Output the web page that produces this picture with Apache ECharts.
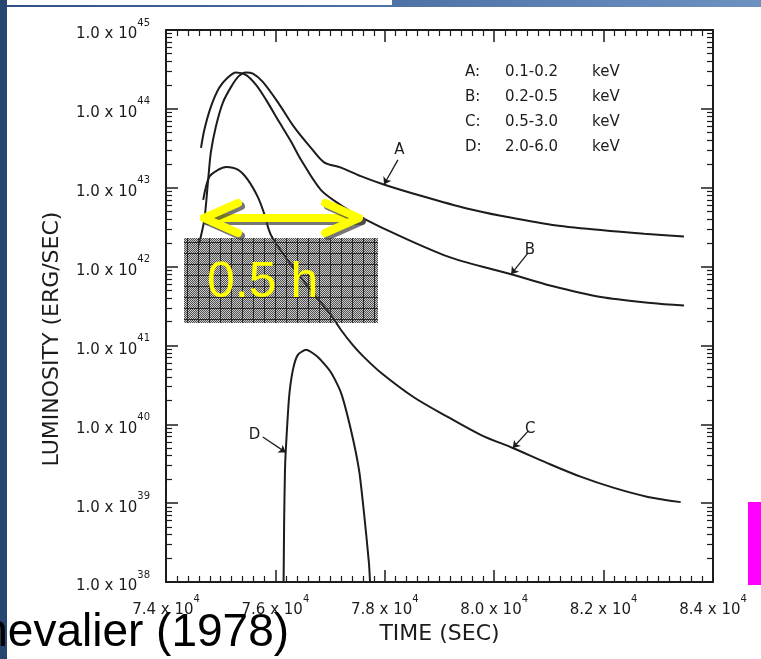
<!DOCTYPE html>
<html>
<head>
<meta charset="utf-8">
<title>X-ray luminosity vs time</title>
<script src="https://cdn.jsdelivr.net/npm/echarts@6.0.0/dist/echarts.min.js"></script>
<style>
html, body { margin: 0; padding: 0; background: #fff; }
#main { width: 761px; height: 659px; }
</style>
</head>
<body>
<div id="main"></div>
<script>
// energy bands
var bandNames = ['A', 'B', 'C', 'D'];
var bandRanges = ['0.1-0.2', '0.2-0.5', '0.5-3.0', '2.0-6.0'];

// [time (sec), luminosity (erg/sec)]
var curveA = [
	[74600, 1.9e42], [74700, 3.9e42], [74770, 1.25e43], [74820, 2.8e43], [74910, 5.9e43],
	[75040, 1.2e44], [75190, 1.9e44], [75330, 2.6e44], [75460, 2.9e44], [75590, 2.8e44],
	[75770, 2.2e44], [76050, 1.2e44], [76340, 5.9e43], [76650, 3.2e43], [76890, 2.1e43],
	[77200, 1.8e43], [77560, 1.4e43], [77980, 1.1e43], [78660, 7.9e42], [79520, 5.4e42],
	[80120, 4.4e42], [81040, 3.4e42], [81950, 2.9e42], [82740, 2.6e42], [83470, 2.4e42]
];
var curveB = [
	[74640, 3.2e43], [74700, 5.4e43], [74820, 1.06e44], [74970, 1.84e44], [75130, 2.5e44],
	[75280, 2.9e44], [75460, 2.7e44], [75650, 2.0e44], [75830, 1.3e44], [76070, 6.8e43],
	[76290, 3.8e43], [76470, 2.25e43], [76830, 9.4e42], [77200, 6.0e42], [77560, 4.25e42],
	[78300, 2.4e42], [79210, 1.3e42], [80310, 8.0e41], [81040, 5.7e41], [81950, 4.1e41],
	[82870, 3.45e41], [83470, 3.2e41]
];
var curveC = [
	[74680, 7.0e42], [74790, 1.37e43], [74950, 1.68e43], [75100, 1.83e43], [75320, 1.68e43],
	[75500, 1.25e43], [75680, 7.6e42], [75790, 4.8e42], [75920, 2.5e42], [76290, 1.05e42],
	[76650, 5.0e41], [77020, 2.4e41], [77200, 1.57e41], [77420, 1.0e41], [77620, 7.1e40],
	[77930, 4.5e40], [78530, 2.2e40], [79150, 1.24e40], [79760, 7.3e39], [80340, 5.0e39],
	[80980, 3.2e39], [81590, 2.15e39], [82190, 1.56e39], [82810, 1.2e39], [83410, 1.03e39]
];
var curveD = [
	[76150, 1e38], [76160, 6.1e38], [76175, 2.6e39], [76190, 4.7e39], [76250, 2.2e40],
	[76320, 4.9e40], [76410, 7.6e40], [76560, 8.8e40], [76780, 7.1e40], [77020, 4.5e40],
	[77200, 2.5e40], [77380, 8.5e39], [77530, 2.6e39], [77620, 7.5e38], [77710, 1.74e38],
	[77730, 1e38]
];

// curve tags: [tail, tip]
var tagA = [[78240, 2.25e43], [77985, 1.1e43]];
var tagB = [[80620, 1.49e42], [80310, 8.0e41]];
var tagC = [[80620, 8.2e39], [80340, 5.0e39]];
var tagD = [[75770, 6.9e39], [76190, 4.4e39]];

// axes
var yMajor = [1e38, 1e39, 1e40, 1e41, 1e42, 1e43, 1e44, 1e45];
var yMin = 1e38, yMax = 1e45;
var xMin = 74000, xMax = 84000, xStep = 2000;

// 顶端刻度略往内收，避免被浮点误差过滤掉
var yTickVals = yMajor.map(function(v) {
	return Math.min(v, yMax * 0.999999);
});
var yMinor = [];
for (var i = 0; i < yMajor.length - 1; i++) {
	for (var k = 2; k <= 9; k++) {
		yMinor.push(yMajor[i] * k);
	}
}

var ink = '#1c1c1c';
var font = 'DejaVu Sans';

function supLabel(mant, exp) {
	return '{b|' + mant + ' x 10}{s|' + exp + '}';
}
var labelRich = {
	b: { fontSize: 15, fontFamily: font, color: ink, lineHeight: 24, verticalAlign: 'bottom' },
	s: { fontSize: 10, fontFamily: font, color: ink, lineHeight: 10, verticalAlign: 'top' }
};

function xAxisCfg(pos, showLabel) {
	return {
		type: 'value', position: pos, min: xMin, max: xMax, interval: xStep,
		axisLine: { show: true, onZero: false, lineStyle: { color: ink, width: 2 } },
		axisTick: { show: true, inside: true, length: 12, lineStyle: { color: ink, width: 1.5 } },
		minorTick: { show: true, splitNumber: 10, length: 6, lineStyle: { color: ink, width: 1.2 } },
		splitLine: { show: false },
		minorSplitLine: { show: false },
		axisLabel: {
			show: showLabel, margin: 12, showMinLabel: true, showMaxLabel: true,
			formatter: function(v) { return supLabel((v / 1e4).toFixed(1), 4); },
			rich: labelRich
		}
	};
}

function yAxisCfg(pos, major, showLine) {
	return {
		type: 'log', logBase: 10, position: pos, min: yMin, max: yMax,
		axisLine: { show: showLine, onZero: false, lineStyle: { color: ink, width: 2 } },
		axisTick: { show: true, inside: true, length: major ? 12 : 6, customValues: major ? yTickVals : yMinor,
			lineStyle: { color: ink, width: major ? 1.5 : 1.2 } },
		minorTick: { show: false },
		splitLine: { show: false },
		axisLabel: { show: false }
	};
}

// 网格斜纹底图
var pat = document.createElement('canvas');
pat.width = 11;
pat.height = 11;
var pctx = pat.getContext('2d');
for (var px = 0; px < 11; px++) {
	for (var py = 0; py < 11; py++) {
		pctx.fillStyle = (px + py) % 2 === 0 ? '#4e4e4e' : 'rgba(0,0,0,0.2)';
		pctx.fillRect(px, py, 1, 1);
	}
}
pctx.fillStyle = '#2a2a2a';
pctx.fillRect(0, 0, 11, 1);
pctx.fillRect(0, 0, 1, 11);

function tagLine(name, tag) {
	return {
		silent: true,
		symbol: ['none', 'arrow'],
		symbolSize: 7,
		lineStyle: { color: ink, width: 1.3, type: 'solid' },
		label: { show: true, position: 'start', distance: 3, formatter: name,
			fontSize: 15, fontFamily: font, color: ink },
		emphasis: { disabled: true },
		data: [[{ coord: tag[0] }, { coord: tag[1] }]]
	};
}

var curves = [curveA, curveB, curveC, curveD];
var tags = [tagA, tagB, tagC, tagD];
var series = [];
for (var s = 0; s < curves.length; s++) {
	series.push({
		name: bandNames[s] + ': ' + bandRanges[s] + ' keV',
		type: 'line',
		xAxisIndex: 0,
		yAxisIndex: 0,
		data: curves[s],
		showSymbol: false,
		smooth: s === 3 ? 0.2 : 0.3,
		lineStyle: { color: ink, width: 2 },
		markLine: tagLine(bandNames[s], tags[s])
	});
}

var elements = [];
// legend text
for (var r = 0; r < bandNames.length; r++) {
	var ty = 72 + r * 25;
	elements.push({ type: 'text', z: 50, style: { text: bandNames[r] + ':', x: 465, y: ty, fill: ink, font: '15px "' + font + '"', verticalAlign: 'middle' } });
	elements.push({ type: 'text', z: 50, style: { text: bandRanges[r], x: 505, y: ty, fill: ink, font: '15px "' + font + '"', verticalAlign: 'middle' } });
	elements.push({ type: 'text', z: 50, style: { text: 'keV', x: 592, y: ty, fill: ink, font: '15px "' + font + '"', verticalAlign: 'middle' } });
}
// slide overlays
var arrowStyle = {
	stroke: '#ffff00', lineWidth: 8, lineCap: 'round', lineJoin: 'round', fill: null,
	shadowColor: 'rgba(60,60,60,0.7)', shadowOffsetX: 3, shadowOffsetY: 3
};
elements.push(
	{ type: 'rect', z: 100, shape: { x: 0, y: 0, width: 761, height: 7 },
		style: { fill: new echarts.graphic.LinearGradient(0, 0, 1, 0, [
			{ offset: 0, color: '#2f5085' }, { offset: 1, color: '#6d92c2' }]) } },
	{ type: 'rect', z: 101, shape: { x: 7, y: 0, width: 385, height: 5 }, style: { fill: '#fff' } },
	{ type: 'rect', z: 100, shape: { x: 0, y: 0, width: 7, height: 659 }, style: { fill: '#26456f' } },
	{ type: 'rect', z: 100, shape: { x: 748, y: 502, width: 13, height: 83 }, style: { fill: '#ff00ff' } },
	{ type: 'rect', z: 100, shape: { x: 184, y: 238, width: 194, height: 85 },
		style: { fill: { image: pat, repeat: 'repeat' } } },
	{ type: 'text', z: 102, style: { text: '0.5 h', x: 207, y: 283, fill: '#ffff00',
		font: '50px "Liberation Sans"', verticalAlign: 'middle' } },
	{ type: 'polyline', z: 102, shape: { points: [[204, 218], [359, 218]] }, style: arrowStyle },
	{ type: 'polyline', z: 102, shape: { points: [[238, 203], [204, 218], [238, 233]] }, style: arrowStyle },
	{ type: 'polyline', z: 102, shape: { points: [[325, 203], [359, 218], [325, 233]] }, style: arrowStyle },
	{ type: 'text', z: 103, style: { text: 'Chevalier (1978)', x: -51, y: 633, fill: '#000',
		font: '46px "Liberation Sans"', verticalAlign: 'middle' } }
);

var option = {
	animation: false,
	backgroundColor: '#fff',
	grid: { left: 166, right: 48, top: 30, bottom: 77, containLabel: false },
	xAxis: [
		(function() {
			var a = xAxisCfg('bottom', true);
			a.name = 'TIME (SEC)';
			a.nameLocation = 'middle';
			a.nameGap = 36;
			a.nameTextStyle = { fontSize: 22, fontFamily: font, color: ink };
			return a;
		})(),
		xAxisCfg('top', false)
	],
	yAxis: [
		(function() {
			var a = yAxisCfg('left', true, true);
			a.axisLabel = {
				show: true, margin: 16, customValues: yTickVals,
				formatter: function(v) { return supLabel('1.0', Math.round(Math.log(v) / Math.LN10)); },
				rich: labelRich
			};
			a.name = 'LUMINOSITY (ERG/SEC)';
			a.nameLocation = 'middle';
			a.nameRotate = 90;
			a.nameGap = 103;
			a.nameTextStyle = { fontSize: 22, fontFamily: font, color: ink, padding: [0, 66, 0, 0] };
			return a;
		})(),
		yAxisCfg('left', false, false),
		yAxisCfg('right', true, true),
		yAxisCfg('right', false, false)
	],
	series: series,
	graphic: { elements: elements }
};

var chart = echarts.init(document.getElementById('main'));
chart.setOption(option);
</script>
</body>
</html>
